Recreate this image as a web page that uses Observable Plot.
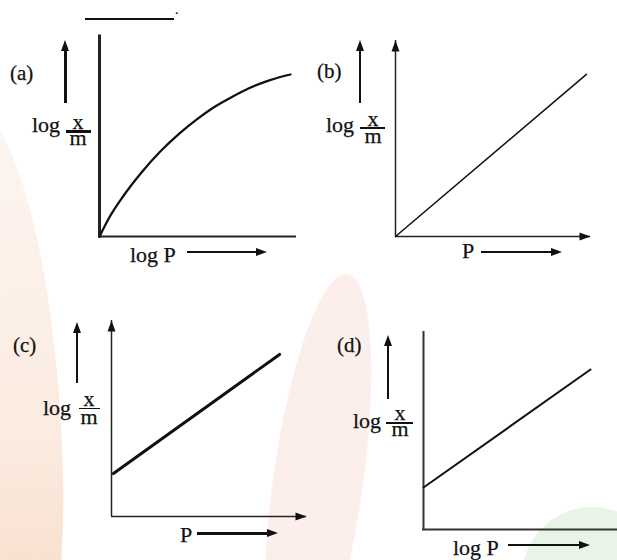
<!DOCTYPE html>
<html><head><meta charset="utf-8">
<script src="https://cdn.jsdelivr.net/npm/d3@7"></script>
<script src="https://cdn.jsdelivr.net/npm/@observablehq/plot@0.6"></script>
<style>
html,body{margin:0;padding:0;background:#fff;}
#chart{position:relative;width:617px;height:560px;overflow:hidden;background:#fff;color:#111;}
.blob{position:absolute;border-radius:50%;}
.t{position:absolute;white-space:nowrap;line-height:1;font-family:"Liberation Serif","DejaVu Serif",serif;color:#111;-webkit-text-stroke:0.25px #111;}
.fr{text-align:center;white-space:pre;}
.r{position:absolute;background:#111;}
.hd{position:absolute;width:0;height:0;}
</style></head><body><div id="chart"></div>
<script>
// ---- data ----
const panelIds = ["(a)", "(b)", "(c)", "(d)"];
const yLabelWord = "log";
const yLabelNum = "x";
const yLabelDen = "m";
const xLabels = ["log P", "P", "P", "log P"];

// (a) log x/m vs log P : curved isotherm
const aLogP  = [0, 0.50, 1.20, 2.10, 3.10, 4.10, 5.00, 5.90, 6.80, 7.60, 8.70, 9.74];
const aLogXm = [0, 0.95, 2.00, 3.15, 4.25, 5.17, 5.88, 6.50, 7.00, 7.40, 7.82, 8.10];
// (b) log x/m vs P : straight line through origin
const bP     = [0, 9.79];
const bLogXm = [0, 8.27];
// (c) log x/m vs P : straight line with intercept
const cP     = [0.1, 8.62];
const cLogXm = [2.19, 8.27];
// (d) log x/m vs log P : straight line with intercept
const dLogP  = [0, 8.61];
const dLogXm = [2.13, 8.12];

const seriesX = [aLogP, bP, cP, dLogP];
const seriesY = [aLogXm, bLogXm, cLogXm, dLogXm];
const axisDomain = [0, 10];

// ---- layout ----
const layout = [
  {ox:99,  oy:236, xEnd:295, yTop:36,  xAxisW:2,   yAxisW:3,   lineW:2.3, curve:"monotone-x", xHead:false, yHead:false, cap:"square", axis:"#222",
   id:[10,81], log:[32,132], frac:{cx:78, bar:131.5, x1:66, x2:91, bw:2.5, num:129.5, den:145}, varrow:{x:65, tip:40, bot:103, w:3},
   xl:{left:130, base:262}, harrow:{x1:187, x2:267, y:252, w:1.5}},
  {ox:395, oy:236, xEnd:590, yTop:40,  xAxisW:1.5, yAxisW:1.5, lineW:1.5, curve:"linear", xHead:true, yHead:true, cap:"butt", axis:"#222",
   id:[317,79], log:[326,132], frac:{cx:373, bar:128, x1:360, x2:385, bw:2, num:126, den:143}, varrow:{x:360, tip:40, bot:103, w:1.5},
   xl:{left:462, base:258}, harrow:{x1:481, x2:562, y:252, w:1.5}},
  {ox:111, oy:516, xEnd:306, yTop:320, xAxisW:1.5, yAxisW:1.5, lineW:3, curve:"linear", xHead:true, yHead:true, cap:"butt", axis:"#222",
   id:[13,353], log:[43,415], frac:{cx:89, bar:408.5, x1:79, x2:100, bw:1.5, num:406.5, den:424}, varrow:{x:77, tip:322, bot:383, w:1.5},
   xl:{left:180, base:542}, harrow:{x1:197, x2:278, y:533, w:3}},
  {ox:423, oy:529, xEnd:617, yTop:332, xAxisW:2,   yAxisW:2,   lineW:2, curve:"linear", xHead:false, yHead:false, cap:"square", axis:"#333",
   id:[337,353], log:[353,428], frac:{cx:400, bar:423, x1:386, x2:413, bw:2.5, num:420.5, den:437}, varrow:{x:388, tip:335, bot:399, w:1.5},
   xl:{left:453, base:555}, harrow:{x1:508, x2:590, y:545, w:1.5}}
];

const chart = document.getElementById("chart");

function el(cls, css) {
  const d = document.createElement("div");
  d.className = cls;
  Object.assign(d.style, css);
  chart.appendChild(d);
  return d;
}
// baseline sits at ((lh - 1.107*fs)/2 + 0.891*fs) below the box top (lh in px)
function baseOff(fs, lhPx) { return (lhPx - 1.107 * fs) / 2 + 0.891 * fs; }
function text(str, left, base, fs) {
  const d = el("t", {fontSize: fs + "px", lineHeight: fs + "px", top: (base - baseOff(fs, fs)) + "px", left: left + "px"});
  d.textContent = str;
}
// numerator and denominator as one two-line text node
function fraction(f, fs) {
  const lh = f.den - f.num;
  const d = el("t fr", {fontSize: fs + "px", lineHeight: lh + "px", top: (f.num - baseOff(fs, lh)) + "px", left: f.cx + "px", transform: "translateX(-50%)"});
  d.textContent = yLabelNum + "\n" + yLabelDen;
  rect(f.x1, f.bar - f.bw / 2, f.x2 - f.x1, f.bw);
}
function rect(l, t, w, h) { el("r", {left: l + "px", top: t + "px", width: w + "px", height: h + "px"}); }
function harrow(a) {
  rect(a.x1, a.y - a.w / 2, a.x2 - a.x1 - 10, a.w);
  el("hd", {left: (a.x2 - 11) + "px", top: (a.y - 4) + "px", borderLeft: "11px solid #111", borderTop: "4px solid transparent", borderBottom: "4px solid transparent"});
}
function varrow(a) {
  rect(a.x - a.w / 2, a.tip + 10, a.w, a.bot - a.tip - 10);
  el("hd", {left: (a.x - 4) + "px", top: a.tip + "px", borderBottom: "11px solid #111", borderLeft: "4px solid transparent", borderRight: "4px solid transparent"});
}

// ---- background decoration ----
el("blob", {left: "-70px", top: "110px", width: "130px", height: "600px", background: "linear-gradient(to bottom, #fdf6f1 0%, #fbebe0 55%, #f8d6bf 100%)", transform: "rotate(-4deg)"});
el("blob", {left: "273px", top: "272px", width: "90px", height: "420px", background: "#fcefeb", transform: "rotate(8deg)"});
el("blob", {left: "522px", top: "507px", width: "140px", height: "140px", background: "#e8f4e8", transform: "rotate(-20deg)"});

// ---- top blank ----
el("r", {left: "85px", top: "18.3px", width: "89px", height: "1.5px"});
text(".", 175, 14.5, 14);

// ---- arrowhead symbols ----
const upHead = {draw(ctx) { ctx.moveTo(0, 0); ctx.lineTo(-4, 11); ctx.lineTo(4, 11); ctx.closePath(); }};
const rightHead = {draw(ctx) { ctx.moveTo(0, 0); ctx.lineTo(-11, -4); ctx.lineTo(-11, 4); ctx.closePath(); }};

const mg = 12;
layout.forEach((L, i) => {
  const rows = seriesX[i].map((x, k) => ({x, y: seriesY[i][k]}));
  const W = L.xEnd - L.ox, H = L.oy - L.yTop;
  const marks = [
    Plot.ruleX([axisDomain[0]], {stroke: L.axis, strokeWidth: L.yAxisW, strokeLinecap: L.cap}),
    Plot.ruleY([axisDomain[0]], {stroke: L.axis, strokeWidth: L.xAxisW, strokeLinecap: L.cap}),
    Plot.line(rows, {x: "x", y: "y", stroke: "#111", strokeWidth: L.lineW, curve: L.curve})
  ];
  if (L.yHead) marks.push(Plot.dot([{x: axisDomain[0], y: axisDomain[1]}], {x: "x", y: "y", symbol: upHead, r: 4, fill: "#111", stroke: "none"}));
  if (L.xHead) marks.push(Plot.dot([{x: axisDomain[1], y: axisDomain[0]}], {x: "x", y: "y", symbol: rightHead, r: 4, fill: "#111", stroke: "none"}));
  const svg = Plot.plot({
    width: W + 2 * mg, height: H + 2 * mg,
    marginLeft: mg, marginRight: mg, marginTop: mg, marginBottom: mg,
    x: {domain: axisDomain, axis: null},
    y: {domain: axisDomain, axis: null},
    style: {background: "transparent", overflow: "visible"},
    marks
  });
  svg.style.position = "absolute";
  svg.style.left = (L.ox - mg) + "px";
  svg.style.top = (L.yTop - mg) + "px";
  svg.style.maxWidth = "none";
  chart.appendChild(svg);

  // labels
  text(panelIds[i], L.id[0], L.id[1], 21);
  text(yLabelWord, L.log[0], L.log[1], 22);
  fraction(L.frac, 22);
  varrow(L.varrow);
  text(xLabels[i], L.xl.left, L.xl.base, 22);
  harrow(L.harrow);
});
</script></body></html>
